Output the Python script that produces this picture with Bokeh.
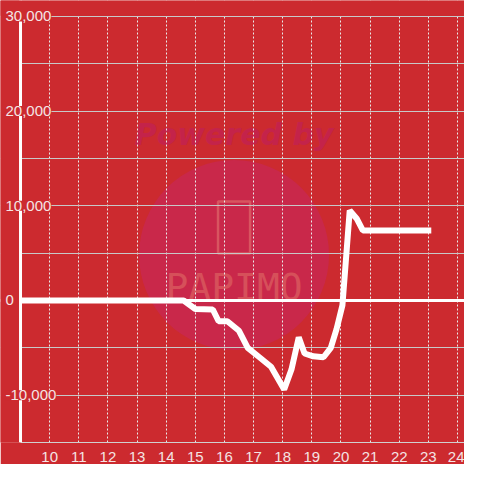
from bokeh.plotting import figure
from bokeh.models import Range1d, ColumnDataSource, LabelSet, FixedTicker, Span, BoxAnnotation
from bokeh.core.properties import value
from bokeh.embed import file_html
from bokeh.resources import INLINE

# ---- data ----
hours = [9.0, 14.6, 15.0, 15.6, 15.8, 16.1, 16.5, 16.8, 17.2, 17.6, 18.05,
         18.3, 18.55, 18.75, 19.05, 19.4, 19.65, 19.85, 20.05, 20.3, 20.55, 20.75, 23.1]
values = [0, 0, -900, -950, -2200, -2200, -3200, -5000, -6000, -7000, -9400,
          -7300, -3900, -5600, -5900, -6000, -5000, -3000, -500, 9500, 8600, 7400, 7400]

x_ticks = [10, 11, 12, 13, 14, 15, 16, 17, 18, 19, 20, 21, 22, 23, 24]
y_grid = [-10000, -5000, 0, 5000, 10000, 15000, 20000, 25000, 30000]
y_label_values = [30000, 20000, 10000, 0, -10000]
y_label_texts = ["30,000", "20,000", "10,000", "0", "-10,000"]

X_START, X_END = 9, 24.24
Y_MIN, Y_MAX = -15000, 30000

BG = "#CC2A2F"
TXT = "#F4E4E4"

p = figure(width=464, height=464, x_range=Range1d(8.313, X_END), y_range=Range1d(Y_MIN, 31678),
           output_backend="svg", toolbar_location=None,
           min_border_left=0, min_border_right=0, min_border_top=0, min_border_bottom=19)
p.background_fill_color = BG
p.border_fill_color = BG
p.outline_line_color = None

# watermark
wm_x, wm_y = 16.33, 4800
p.scatter(x=[wm_x], y=[wm_y], size=190, marker="circle", fill_color="#C9284A",
          line_color=None, level="image")
p.text(x=[wm_x], y=[17500], text=["Powered by"], text_font=value("DejaVu Sans"),
       text_font_style="bold italic", text_font_size="30px", text_color="#C4234A",
       text_align="center", text_baseline="middle", level="image")
p.rect(x=[wm_x], y=[7700], width=1.1, height=5500, fill_color=None,
       line_color="#D85560", line_width=2.5, level="image")
p.text(x=[wm_x], y=[1450], text=["PAPIMO"], text_font=value("DejaVu Sans Mono"),
       text_font_size="38px", text_color="#D6505A", text_align="center",
       text_baseline="middle", level="image")

# grids
p.ygrid.ticker = FixedTicker(ticks=y_grid)
p.ygrid.grid_line_color = "#C8C8C8"
p.ygrid.grid_line_width = 1
p.xgrid.ticker = FixedTicker(ticks=x_ticks)
p.xgrid.grid_line_color = "#EAEAEA"
p.xgrid.grid_line_dash = "2 2"
p.xgrid.grid_line_width = 1

# axes
p.yaxis.visible = False
p.xaxis.ticker = FixedTicker(ticks=x_ticks)
p.xaxis.bounds = (X_START, X_END)
p.xaxis.axis_line_color = "#D0D0D0"
p.xaxis.axis_line_width = 1
p.xaxis.major_tick_line_color = None
p.xaxis.minor_tick_line_color = None
p.xaxis.major_label_standoff = 3
p.xaxis.major_label_text_font = "Liberation Sans"
p.xaxis.major_label_text_font_size = "15px"
p.xaxis.major_label_text_color = TXT

# data line
p.line(hours, values, line_color="white", line_width=6)

# zero line
p.add_layout(Span(location=0, dimension="width", line_color="white", line_width=3))
# mask left strip
p.add_layout(BoxAnnotation(right=X_START, fill_color=BG, fill_alpha=1, line_color=None))
# left axis line
p.add_layout(Span(location=X_START, dimension="height", line_color="white", line_width=3))
# mask top strip
p.add_layout(BoxAnnotation(bottom=Y_MAX + 60, fill_color=BG, fill_alpha=1, line_color=None))

# y labels with background
src = ColumnDataSource(dict(y=y_label_values, t=y_label_texts))
p.add_layout(LabelSet(x=X_START, y="y", text="t", source=src, x_offset=-15,
                      text_align="left", text_baseline="middle",
                      text_font=value("Liberation Sans"), text_font_size="15px",
                      text_color=TXT, background_fill_color=BG))

open("out.html", "w").write(file_html(p, INLINE))
